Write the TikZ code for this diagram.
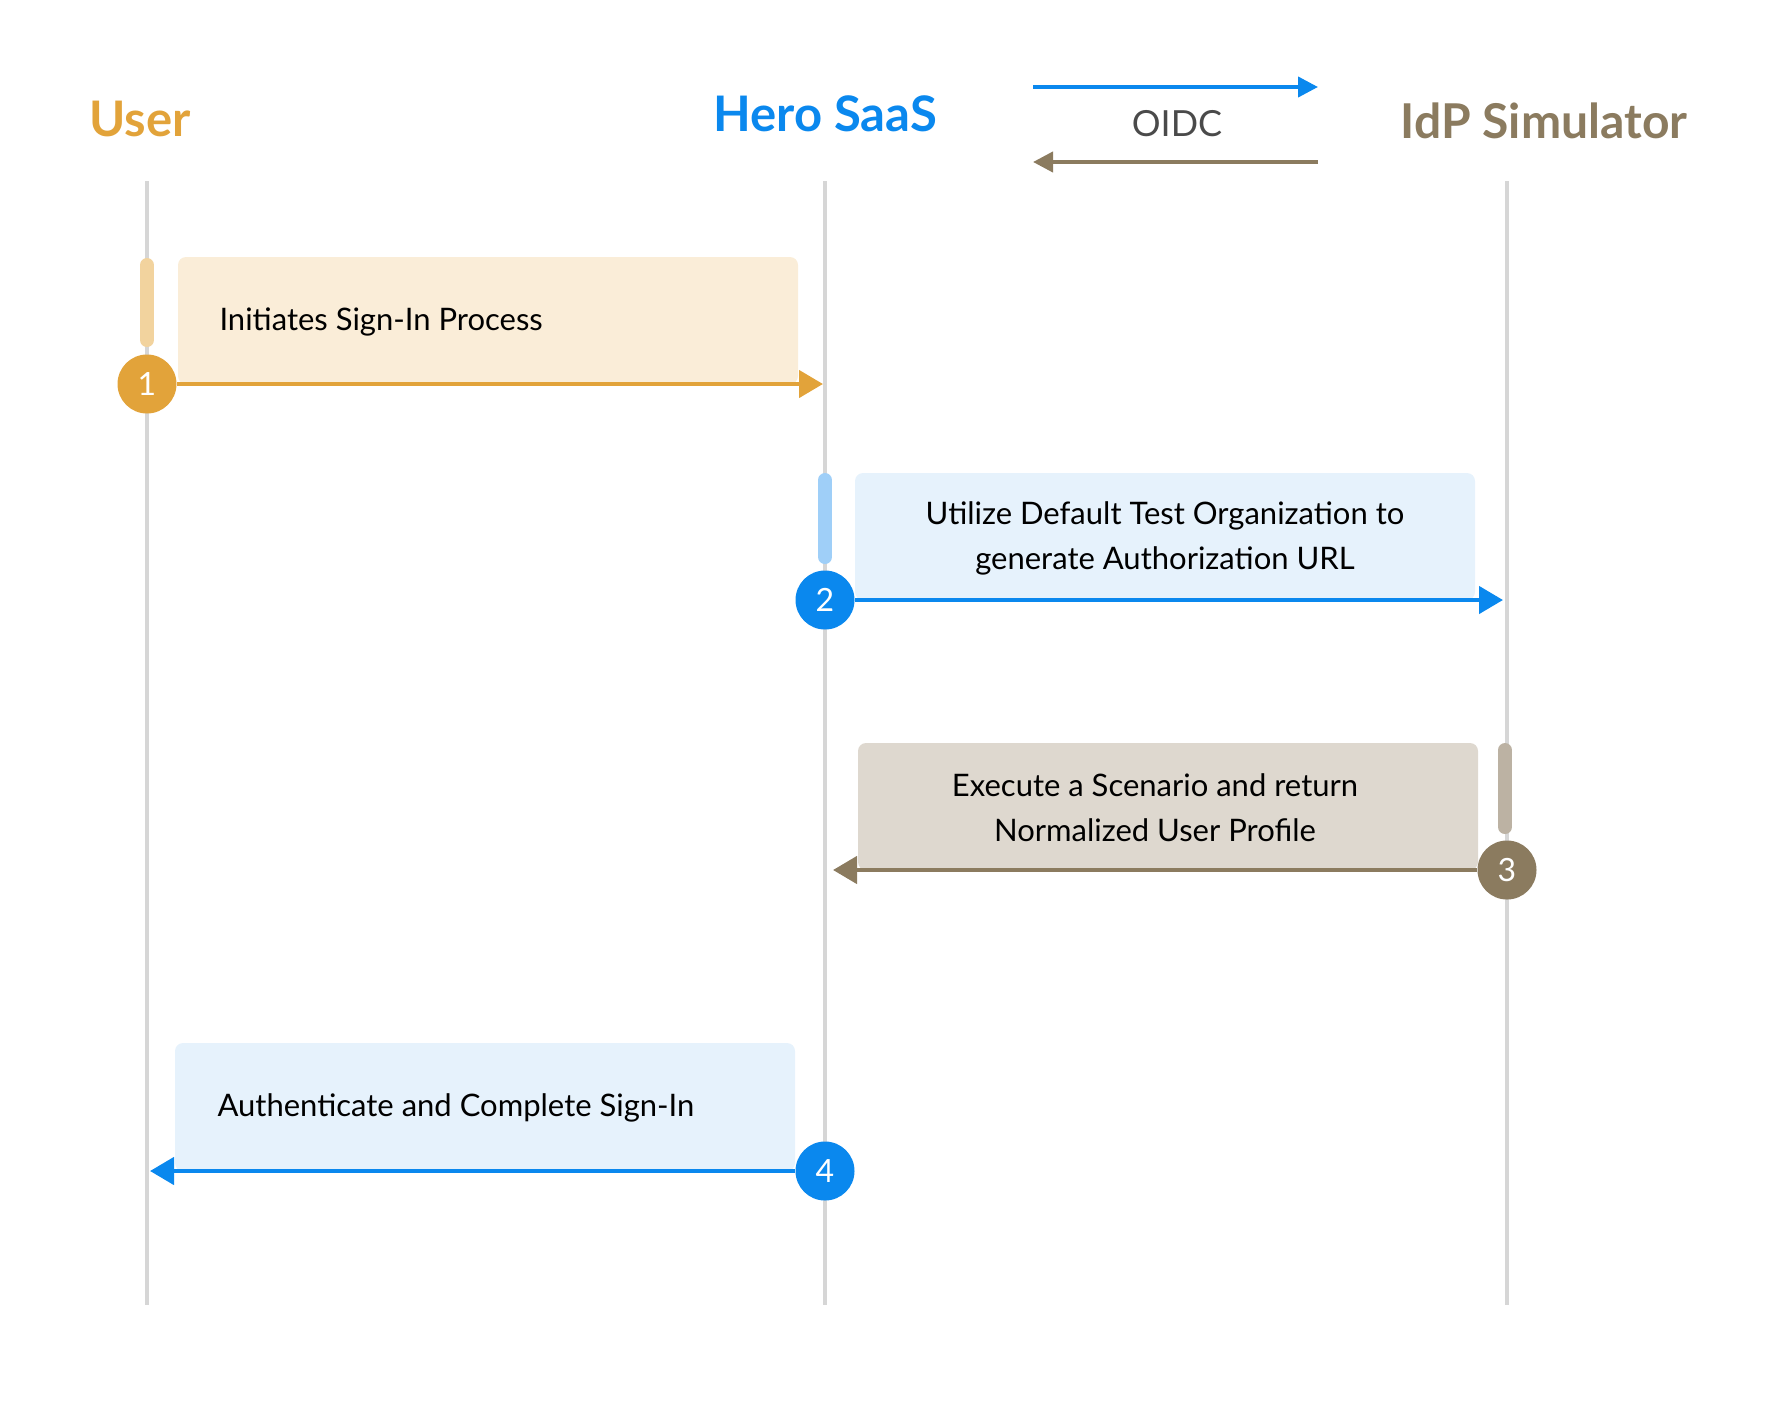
\documentclass[tikz,border=0pt]{standalone}
\usepackage{fontspec}
\setmainfont{Lato}
\usetikzlibrary{arrows.meta}
\definecolor{uorange}{HTML}{E2A33A}
\definecolor{ofill}{HTML}{FAEDD8}
\definecolor{obar}{HTML}{F2D39E}
\definecolor{hblue}{HTML}{0A88EE}
\definecolor{bfill}{HTML}{E6F2FC}
\definecolor{bbar}{HTML}{9FCFF8}
\definecolor{ibrown}{HTML}{8B7B5F}
\definecolor{brfill}{HTML}{DED8CF}
\definecolor{brbar}{HTML}{BCB2A3}
\definecolor{lgray}{HTML}{D6D6D6}
\definecolor{oidc}{HTML}{4A4A4A}
\begin{document}
\begin{tikzpicture}[x=1pt,y=-1pt,
  lifeline/.style={draw=lgray,line width=4pt},
  msgbox/.style={rounded corners=8pt},
  actbar/.style={line width=14pt,line cap=round},
  stepcirc/.style={circle,minimum size=59pt,inner sep=0pt,text=white,font=\fontsize{32}{34}\selectfont},
  msg/.style={line width=4.5pt,-{Triangle[length=24pt,width=27pt]}},
  title/.style={font=\fontsize{49}{52}\selectfont\bfseries},
  body/.style={font=\fontsize{31}{45}\selectfont,text=black}]
\useasboundingbox (0,0) rectangle (1774,1411);
% titles
\node[title,text=uorange] (tuser) at (140,119) {User};
\node[title,text=hblue] (thero) at (825,114) {Hero SaaS};
\node[title,text=ibrown,font=\fontsize{48}{52}\selectfont\bfseries] (tidp) at (1544,121) {IdP Simulator};
% legend
\coordinate (la) at (1033,87);
\coordinate (lb) at (1318,87);
\coordinate (lc) at (1318,162);
\coordinate (ld) at (1033,162);
\draw[msg,hblue,line width=4pt,-{Triangle[length=20pt,width=20pt]}] (la) -- (lb);
\draw[msg,ibrown,line width=4pt,-{Triangle[length=20pt,width=20pt]}] (lc) -- (ld);
\node[font=\fontsize{36}{40}\selectfont,text=oidc] (loidc) at (1177,124) {OIDC};
% lifelines
\coordinate (u0) at (147,181); \coordinate (u1) at (147,1305);
\coordinate (h0) at (825,181); \coordinate (h1) at (825,1305);
\coordinate (i0) at (1507,181); \coordinate (i1) at (1507,1305);
\draw[lifeline] (u0) -- (u1);
\draw[lifeline] (h0) -- (h1);
\draw[lifeline] (i0) -- (i1);
% step 1
\fill[ofill,msgbox] (178,257) rectangle (798,384);
\draw[actbar,obar] (147,265) -- (147,340);
\node[body,anchor=west] (t1) at (216,322) {Initiates Sign-In Process};
\node[stepcirc,fill=uorange] (c1) at (147,384) {1};
\coordinate (e1) at (823,384);
\draw[msg,uorange] (c1) -- (e1);
% step 2
\fill[bfill,msgbox] (855,473) rectangle (1475,600);
\draw[actbar,bbar] (825,480) -- (825,557);
\node[body,align=center] (t2) at (1165,538) {Utilize Default Test Organization to\\generate Authorization URL};
\node[stepcirc,fill=hblue] (c2) at (825,600) {2};
\coordinate (e2) at (1503,600);
\draw[msg,hblue] (c2) -- (e2);
% step 3
\fill[brfill,msgbox] (858,743) rectangle (1478,870);
\draw[actbar,brbar] (1505,750) -- (1505,827);
\node[body,align=center] (t3) at (1155,808) {Execute a Scenario and return\\Normalized User Profile};
\node[stepcirc,fill=ibrown] (c3) at (1507,870) {3};
\coordinate (e3) at (833,870);
\draw[msg,ibrown] (c3) -- (e3);
% step 4
\fill[bfill,msgbox] (175,1043) rectangle (795,1171);
\node[body,anchor=west] (t4) at (214,1108) {Authenticate and Complete Sign-In};
\node[stepcirc,fill=hblue] (c4) at (825,1171) {4};
\coordinate (e4) at (150,1171);
\draw[msg,hblue] (c4) -- (e4);
\end{tikzpicture}
\end{document}
